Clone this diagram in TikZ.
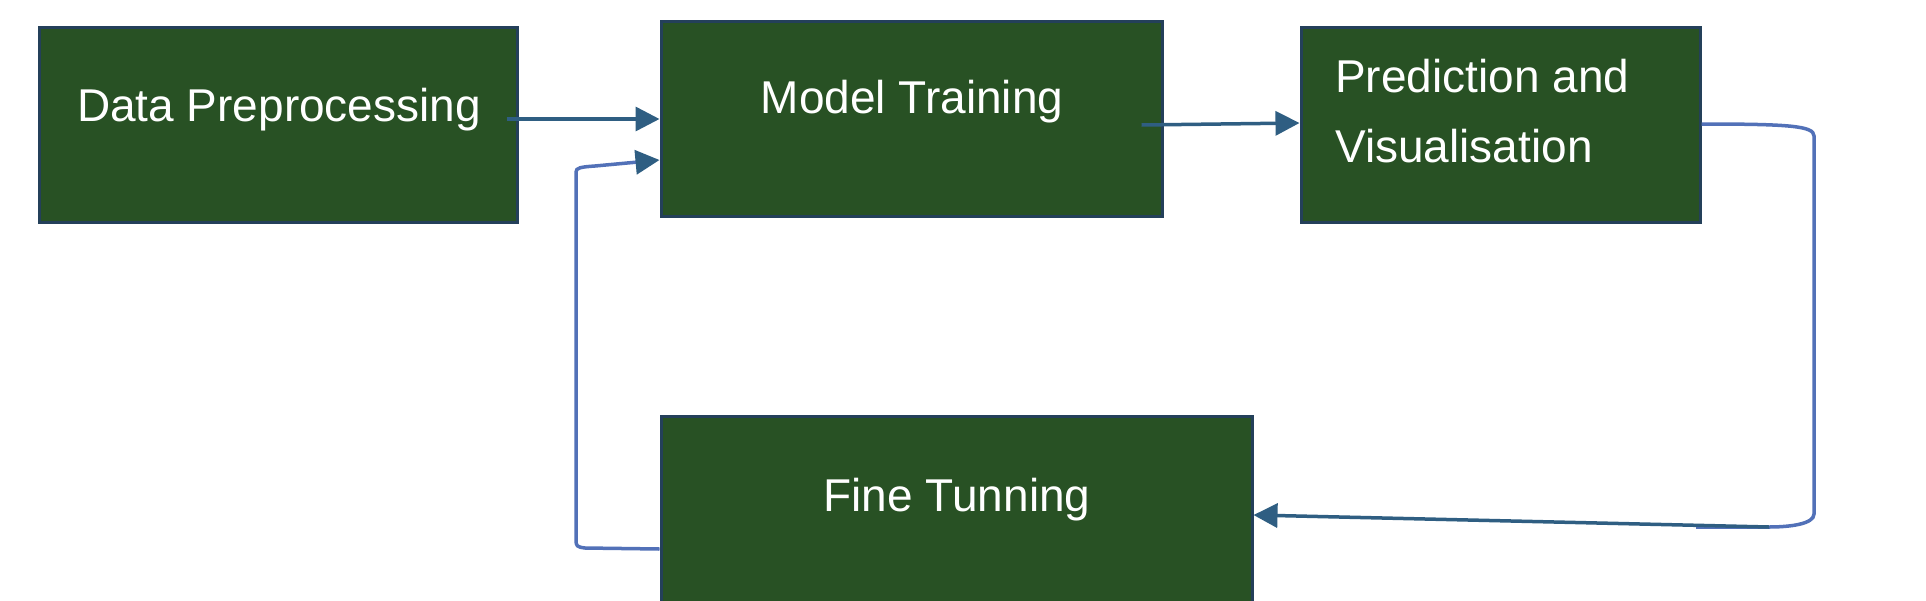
\documentclass[tikz,border=0pt]{standalone}
\usepackage{fontspec}
\setmainfont{Liberation Sans}
\usetikzlibrary{calc,arrows.meta}
\definecolor{boxfill}{RGB}{40,81,36}
\definecolor{boxline}{RGB}{36,64,90}
\definecolor{arrowblue}{RGB}{47,94,130}
\definecolor{loopblue}{RGB}{82,113,184}
\tikzset{
  box/.style={draw=boxline, line width=3pt, fill=boxfill, rectangle, inner sep=0pt},
  lbl/.style={text=white, font=\fontsize{46}{70}\selectfont, anchor=base, inner sep=0pt},
  arr/.style={draw=arrowblue, line width=3.5pt, -{Triangle[length=24pt,width=24pt]}},
  fb/.style={draw=loopblue, line width=3.5pt},
  fbarr/.style={draw=loopblue, line width=3.5pt, -{Triangle[length=24pt,width=24pt,color=arrowblue]}}
}
\begin{document}
\begin{tikzpicture}[x=1pt,y=-1pt]
\clip (0,0) rectangle (1926,600);
\fill[white] (0,0) rectangle (1926,600);
% boxes
\node[box, minimum width=478pt, minimum height=195pt] (dp) at (278,124.5) {};
\node[box, minimum width=501pt, minimum height=195pt] (mt) at (911.5,118.5) {};
\node[box, minimum width=399pt, minimum height=195pt] (pv) at (1500.5,124.5) {};
\node[box, minimum width=591pt, minimum height=200pt] (ft) at (956.5,516) {};
% labels
\node[lbl] (dpt) at (279,121) {Data Preprocessing};
\node[lbl] (mtt) at (912,113) {Model Training};
\node[lbl, anchor=base west] (pvt1) at (1335,92) {Prediction and};
\node[lbl, anchor=base west] (pvt2) at (1335,162) {Visualisation};
\node[lbl] (ftt) at (957,511) {Fine Tunning};
% helper coordinates
\coordinate (r1) at (1814,136);
\coordinate (r2) at (1814,514);
\coordinate (r3) at (1769,527);
\coordinate (r4) at (1696,527);
\coordinate (l1) at (576,540);
\coordinate (l2) at (576,172);
% connectors
\draw[arr] ($(dp.east)+(-12,-5.5)$) -- ($(mt.west)+(0,0.5)$);
\draw[arr] ($(mt.east)+(-22,6.5)$) -- ($(pv.west)+(0,-1.5)$);
\draw[fb] ($(pv.east)+(0,-0.5)$) .. controls (1790,124) and (1814,126) .. (r1) -- (r2)
  .. controls (1814,524) and (1790,527) .. (r3) -- (r4);
\draw[arr] (r3) -- ($(ft.east)+(0,-1)$);
\draw[fbarr] ($(ft.west)+(0,33)$) -- (585,548) .. controls (577,547) and (576,546) .. (l1) -- (l2)
  .. controls (576,168) and (580,167) .. (595,166) -- ($(mt.west)+(0,41.5)$);
\end{tikzpicture}
\end{document}
